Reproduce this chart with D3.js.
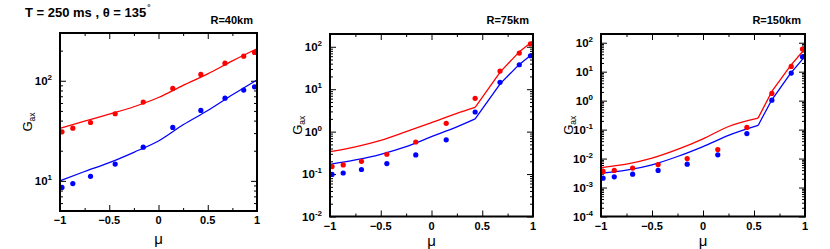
<!DOCTYPE html>
<html>
<head>
<meta charset="utf-8">
<script src="https://cdn.jsdelivr.net/npm/d3@7"></script>
<style>
  body { margin: 0; background: #fff; }
  text { font-family: "Liberation Sans", Arial, sans-serif; }
  .frame { fill: none; stroke: #000; stroke-width: 2; }
  .ax path { display: none; }
  .ax line { stroke: #000; stroke-width: 1; }
</style>
</head>
<body>
<svg id="chart" width="830" height="249"></svg>
<script>
// scattering angle cosines of the data points
const muPts = [-0.98, -0.87, -0.69, -0.44, -0.155, 0.145, 0.43, 0.675, 0.865, 0.975];

// R = 40 km
const muFit1 = [-1, -0.75, -0.5, -0.25, 0, 0.25, 0.5, 0.75, 1];
const redFit1 = [33.4, 39.5, 46.4, 55, 68, 90, 117, 158, 209];
const blueFit1 = [10, 12.4, 15.2, 19.3, 25, 36.3, 50.5, 72.4, 102];
const redPts1 = [30.9, 33.6, 38.3, 46.8, 61.2, 83.8, 115.7, 150, 176, 192];
const bluePts1 = [8.6, 9.4, 11.1, 14.7, 21.7, 34.2, 50.5, 67, 80.7, 87];

// R = 75 km (kink at index 6)
const muFit2 = [-1, -0.75, -0.5, -0.25, 0, 0.25, 0.43, 0.68, 0.865, 1];
const redFit2 = [0.339, 0.44, 0.625, 1.0, 1.63, 2.7, 3.74, 26, 76, 136];
const blueFit2 = [0.17, 0.215, 0.293, 0.444, 0.76, 1.29, 1.99, 13.7, 38.4, 69.6];
const redPts2 = [0.15, 0.164, 0.2, 0.293, 0.57, 1.57, 6.08, 26.7, 71, 117];
const bluePts2 = [0.098, 0.106, 0.128, 0.177, 0.282, 0.64, 2.9, 14.5, 37.7, 61.4];

// R = 150 km (kink at index 6)
const muFit3 = [-1, -0.75, -0.5, -0.25, 0, 0.25, 0.54, 0.675, 0.86, 1];
const redFit3 = [0.0049, 0.0064, 0.0103, 0.0206, 0.048, 0.128, 0.249, 2.08, 16.5, 62];
const blueFit3 = [0.0031, 0.00398, 0.0061, 0.0118, 0.026, 0.063, 0.139, 1.07, 8.95, 33.7];
const redPts3 = [0.0036, 0.0039, 0.0047, 0.0062, 0.01, 0.0206, 0.119, 1.77, 15.2, 60.4];
const bluePts3 = [0.0021, 0.00234, 0.0029, 0.0039, 0.0064, 0.0135, 0.073, 1.04, 8.95, 32.8];

const xTicks = [-1, -0.5, 0, 0.5, 1];
const xMinor = [-0.75, -0.25, 0.25, 0.75];
const titleText = "T = 250 ms , \u03b8 = 135";
const panelLabels = ["R=40km", "R=75km", "R=150km"];

const panels = [
  {label: panelLabels[0], x0: 60, x1: 257, y0: 211, y1: 33, dom: [5, 300], exps: [1, 2], kink: null,
   muFit: muFit1, red: redFit1, blue: blueFit1, redPts: redPts1, bluePts: bluePts1, xlabY: 224, muY: 244},
  {label: panelLabels[1], x0: 330, x1: 533, y0: 216.5, y1: 34, dom: [0.01, 200], exps: [-2, -1, 0, 1, 2], kink: 6,
   muFit: muFit2, red: redFit2, blue: blueFit2, redPts: redPts2, bluePts: bluePts2, xlabY: 230, muY: 246},
  {label: panelLabels[2], x0: 601, x1: 805, y0: 216.5, y1: 34, dom: [1e-4, 200], exps: [-4, -3, -2, -1, 0, 1, 2], kink: 6,
   muFit: muFit3, red: redFit3, blue: blueFit3, redPts: redPts3, bluePts: bluePts3, xlabY: 230, muY: 246}
];

const svg = d3.select('#chart');

// Title
const title = svg.append("text")
  .attr("x", 25).attr("y", 17)
  .attr("font-size", 13).attr("font-weight", "bold")
  .text(titleText);
title.append("tspan").attr("font-size", 8).attr("dx", 1).attr("dy", -7).text("\u00b0");

panels.forEach(p => {
  const x = d3.scaleLinear().domain([-1, 1]).range([p.x0, p.x1]);
  const y = d3.scaleLog().domain(p.dom).range([p.y0, p.y1]);

  // minor log ticks
  const minor = [];
  for (let e = Math.floor(Math.log10(p.dom[0])); e <= Math.ceil(Math.log10(p.dom[1])); e++) {
    for (let m = 2; m <= 9; m++) {
      const v = m * Math.pow(10, e);
      if (v > p.dom[0] && v < p.dom[1]) minor.push(v);
    }
  }
  const major = p.exps.map(e => Math.pow(10, e));

  const g = svg.append("g");

  // axes: ticks point inward on all four sides
  g.append("g").attr("class", "ax").attr("transform", `translate(0,${p.y0})`)
    .call(d3.axisBottom(x).tickValues(xTicks).tickSize(-6).tickFormat(""));
  g.append("g").attr("class", "ax").attr("transform", `translate(0,${p.y0})`)
    .call(d3.axisBottom(x).tickValues(xMinor).tickSize(-3).tickFormat(""));
  g.append("g").attr("class", "ax").attr("transform", `translate(0,${p.y1})`)
    .call(d3.axisTop(x).tickValues(xTicks).tickSize(-6).tickFormat(""));
  g.append("g").attr("class", "ax").attr("transform", `translate(0,${p.y1})`)
    .call(d3.axisTop(x).tickValues(xMinor).tickSize(-3).tickFormat(""));
  g.append("g").attr("class", "ax").attr("transform", `translate(${p.x0},0)`)
    .call(d3.axisLeft(y).tickValues(major).tickSize(-6).tickFormat(""));
  g.append("g").attr("class", "ax").attr("transform", `translate(${p.x0},0)`)
    .call(d3.axisLeft(y).tickValues(minor).tickSize(-3).tickFormat(""));
  g.append("g").attr("class", "ax").attr("transform", `translate(${p.x1},0)`)
    .call(d3.axisRight(y).tickValues(major).tickSize(-6).tickFormat(""));
  g.append("g").attr("class", "ax").attr("transform", `translate(${p.x1},0)`)
    .call(d3.axisRight(y).tickValues(minor).tickSize(-3).tickFormat(""));

  // x tick labels
  g.selectAll(".xl").data(xTicks).join("text")
    .attr("x", d => x(d)).attr("y", p.xlabY)
    .attr("text-anchor", "middle").attr("font-size", 11).attr("font-weight", "bold")
    .text(d => d3.format("")(d));

  // y tick labels 10^n
  p.exps.forEach(e => {
    const t = g.append("text")
      .attr("x", p.x0 - 8).attr("y", y(Math.pow(10, e)) + 4)
      .attr("text-anchor", "end").attr("font-size", 11.5).attr("font-weight", "bold");
    t.append("tspan").text("10");
    t.append("tspan").attr("font-size", 8).attr("dy", -5).text(e < 0 ? "-" + (-e) : e);
  });

  // axis titles
  g.append("text")
    .attr("x", (p.x0 + p.x1) / 2).attr("y", p.muY)
    .attr("text-anchor", "middle").attr("font-size", 15)
    .attr("font-family", "DejaVu Serif, serif")
    .text("\u03bc");
  const gl = g.append("text")
    .attr("transform", `translate(${p.x0 - 28},${(p.y0 + p.y1) / 2}) rotate(-90)`)
    .attr("text-anchor", "middle").attr("font-size", 13);
  gl.append("tspan").text("G");
  gl.append("tspan").attr("font-size", 8.5).attr("dy", 3).text("ax");

  // panel label
  g.append("text")
    .attr("x", p.x1 - 4).attr("y", 24)
    .attr("text-anchor", "end").attr("font-size", 11).attr("font-weight", "bold")
    .text(p.label);

  // fit curves: smooth up to the kink, straight segments after it
  const smooth = d3.line().x(d => x(d[0])).y(d => y(d[1])).curve(d3.curveMonotoneX);
  const straight = d3.line().x(d => x(d[0])).y(d => y(d[1]));
  [[p.red, "#ff0000"], [p.blue, "#0000ff"]].forEach(([vals, col]) => {
    const pts = p.muFit.map((m, i) => [m, vals[i]]);
    const parts = p.kink == null
      ? [[pts, smooth]]
      : [[pts.slice(0, p.kink + 1), smooth], [pts.slice(p.kink), straight]];
    parts.forEach(([seg, gen]) => {
      g.append("path")
        .datum(seg)
        .attr("fill", "none").attr("stroke", col).attr("stroke-width", 1.3)
        .attr("stroke-linejoin", "round")
        .attr("d", gen);
    });
  });

  // data points
  [[p.redPts, "#ff0000"], [p.bluePts, "#0000ff"]].forEach(([vals, col]) => {
    g.selectAll(null).data(muPts.map((m, i) => [m, vals[i]])).join("circle")
      .attr("cx", d => x(d[0])).attr("cy", d => y(d[1]))
      .attr("r", 2.6).attr("fill", col);
  });

  // frame
  g.append("rect").attr("class", "frame")
    .attr("x", p.x0).attr("y", p.y1)
    .attr("width", p.x1 - p.x0).attr("height", p.y0 - p.y1);
});
</script>
</body>
</html>
